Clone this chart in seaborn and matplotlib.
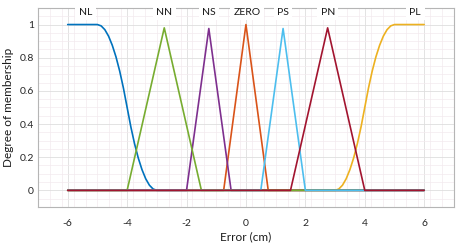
import numpy as np
import pandas as pd
import matplotlib
matplotlib.use('Agg')
import matplotlib.pyplot as plt
import seaborn as sns

# Membership function curves (x in cm, y = degree)
nl_x = [-6, -5, -4.875, -4.75, -4.625, -4.5, -4.375, -4.25, -4.125, -4,
        -3.875, -3.75, -3.625, -3.5, -3.375, -3.25, -3.125, -3, 6]
nl_y = [1, 1, 0.992, 0.969, 0.930, 0.875, 0.805, 0.719, 0.617, 0.5,
        0.383, 0.281, 0.195, 0.125, 0.070, 0.031, 0.008, 0, 0]
pl_x = [-6, 3, 3.125, 3.25, 3.375, 3.5, 3.625, 3.75, 3.875, 4,
        4.125, 4.25, 4.375, 4.5, 4.625, 4.75, 4.875, 5, 6]
pl_y = [0, 0, 0.008, 0.031, 0.070, 0.125, 0.195, 0.281, 0.383, 0.5,
        0.617, 0.719, 0.805, 0.875, 0.930, 0.969, 0.992, 1, 1]
nn_x = [-6, -4, -2.75, -1.5, 6]
nn_y = [0, 0, 0.98, 0, 0]
ns_x = [-6, -2, -1.25, -0.5, 6]
ns_y = [0, 0, 0.976, 0, 0]
zero_x = [-6, -0.75, 0, 0.75, 6]
zero_y = [0, 0, 1, 0, 0]
ps_x = [-6, 0.5, 1.25, 2, 6]
ps_y = [0, 0, 0.976, 0, 0]
pn_x = [-6, 1.5, 2.75, 4, 6]
pn_y = [0, 0, 0.98, 0, 0]

# label names and where they sit along the top
label_names = ['NL', 'NN', 'NS', 'ZERO', 'PS', 'PN', 'PL']
label_pos = [-5.4, -2.75, -1.25, 0.05, 1.25, 2.75, 5.7]

# drawing order follows the colour order
curves = [('NL', nl_x, nl_y, '#0072BD'),
          ('ZERO', zero_x, zero_y, '#D95319'),
          ('PL', pl_x, pl_y, '#EDB120'),
          ('NS', ns_x, ns_y, '#7E2F8E'),
          ('NN', nn_x, nn_y, '#77AC30'),
          ('PS', ps_x, ps_y, '#4DBEEE'),
          ('PN', pn_x, pn_y, '#A2142F')]

frames = []
for name, xs, ys, _ in curves:
    frames.append(pd.DataFrame({'x': xs, 'y': ys, 'mf': name}))
df = pd.concat(frames, ignore_index=True)
palette = {name: c for name, _, _, c in curves}

sns.set_style('white')
plt.rcParams['font.family'] = ['Lato', 'DejaVu Sans']
plt.rcParams['axes.unicode_minus'] = False

fig = plt.figure(figsize=(4.58, 2.49), dpi=100)
ax = fig.add_axes([0.083, 0.169, 0.908, 0.799])

sns.lineplot(data=df, x='x', y='y', hue='mf', hue_order=[c[0] for c in curves],
             palette=palette, sort=False, estimator=None, units='mf',
             linewidth=1.2, legend=False, ax=ax)

ax.set_xlim(-7, 7)
ax.set_ylim(-0.1, 1.1)
ax.set_xticks(range(-6, 7, 2))
ax.set_yticks([0, 0.2, 0.4, 0.6, 0.8, 1])
ax.set_yticklabels(['0', '0.2', '0.4', '0.6', '0.8', '1'])
ax.set_xticks(np.arange(-7, 7.01, 0.4), minor=True)
ax.set_yticks(np.arange(-0.1, 1.11, 0.05), minor=True)
ax.grid(True, which='major', color='#dedede', linewidth=0.6)
ax.grid(True, which='minor', color='#f3eaee', linewidth=0.5)
ax.set_axisbelow(True)

ax.tick_params(axis='x', which='major', direction='in', length=3, pad=9,
               labelsize=7.5, colors='#b0b0b0', labelcolor='#262626')
ax.tick_params(axis='y', which='major', direction='in', length=3, pad=3,
               labelsize=7.5, colors='#b0b0b0', labelcolor='#262626')
ax.tick_params(which='minor', length=0)
for s in ax.spines.values():
    s.set_color('#b5b5b5')
    s.set_linewidth(0.8)

ax.set_xlabel('Error (cm)', fontsize=8.5, labelpad=2, color='#1a1a1a')
ax.set_ylabel('Degree of membership', fontsize=8.5, labelpad=4, color='#1a1a1a')

for name, pos in zip(label_names, label_pos):
    ax.text(pos, 1.073, name, ha='center', va='center', fontsize=7.5, color='#1a1a1a',
            bbox=dict(facecolor='white', edgecolor='none', pad=2.5), clip_on=False)

fig.savefig('out.png', dpi=100)
